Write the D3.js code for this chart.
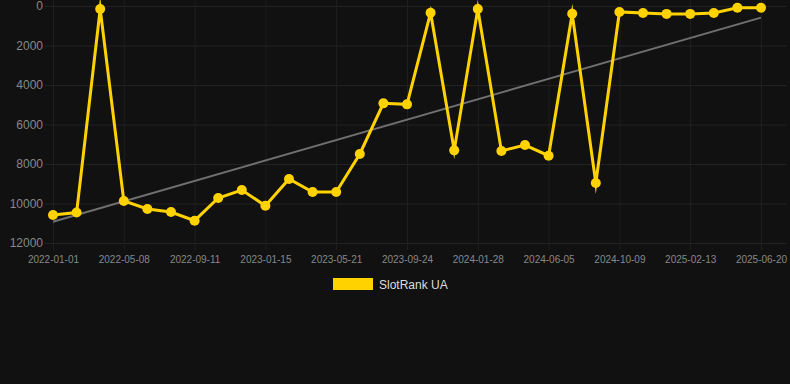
<!DOCTYPE html>
<html>
<head>
	<meta charset="utf-8">
	<title>SlotRank UA</title>
	<script src="https://cdn.jsdelivr.net/npm/d3@7"></script>
	<style type="text/css">
		body {
			margin: 0;
			background: #111111;
		}
		text {
			font-family: "Liberation Sans", Arial, sans-serif;
		}
	</style>
</head>
<body>
	<script type="text/javascript">
		// Data
		var dates = ["2022-01-01","2022-02-12","2022-03-26","2022-05-08","2022-06-19","2022-07-31",
			"2022-09-11","2022-10-23","2022-12-04","2023-01-15","2023-02-26","2023-04-09",
			"2023-05-21","2023-07-02","2023-08-13","2023-09-24","2023-11-05","2023-12-17",
			"2024-01-28","2024-03-10","2024-04-22","2024-06-05","2024-07-17","2024-08-28",
			"2024-10-09","2024-11-20","2025-01-01","2025-02-13","2025-03-27","2025-05-08",
			"2025-06-20"];
		var ranks = [10580, 10460, 150, 9870, 10280, 10430, 10870, 9720, 9320, 10110, 8760, 9420,
			9420, 7490, 4930, 4980, 340, 7310, 150, 7340, 7040, 7580, 390, 8960,
			300, 350, 400, 400, 350, 90, 90];
		var xTickLabels = ["2022-01-01","2022-05-08","2022-09-11","2023-01-15","2023-05-21",
			"2023-09-24","2024-01-28","2024-06-05","2024-10-09","2025-02-13","2025-06-20"];
		var yTicks = [0, 2000, 4000, 6000, 8000, 10000, 12000];
		var trendValues = [10920, 590];
		var seriesName = "SlotRank UA";

		var width = 790;
		var height = 384;
		var plotLeft = 53, plotRight = 761, plotTop = 6, plotBottom = 243;
		var gold = "#ffd200";

		var svg = d3.select("body").append("svg")
			.attr("width", width)
			.attr("height", height);

		var xScale = d3.scalePoint()
			.domain(dates)
			.range([plotLeft, plotRight]);
		var yScale = d3.scaleLinear()
			.domain([0, 12000])
			.range([plotTop, plotBottom]);

		// Horizontal grid + y labels
		var yAxis = svg.append("g")
			.attr("transform", "translate(" + 45 + ",0)")
			.call(d3.axisLeft(yScale)
				.tickValues(yTicks)
				.tickFormat(d3.format("d"))
				.tickSize(-(786 - 45))
				.tickPadding(2));
		yAxis.select(".domain").remove();
		yAxis.selectAll(".tick line").attr("stroke", "#222");
		yAxis.selectAll(".tick text")
			.attr("fill", "#888")
			.attr("font-size", "12px");

		// Vertical grid + x labels
		var xAxis = svg.append("g")
			.attr("transform", "translate(0," + 250 + ")")
			.call(d3.axisBottom(xScale).tickValues(xTickLabels).tickSize(-250).tickPadding(6));
		xAxis.select(".domain").remove();
		xAxis.selectAll(".tick line").attr("stroke", "#1f1f1f");
		xAxis.selectAll(".tick text")
			.attr("fill", "#888")
			.attr("font-size", "10px");

		// Trend line
		svg.append("line")
			.attr("x1", xScale(dates[0]))
			.attr("y1", yScale(trendValues[0]))
			.attr("x2", xScale(dates[dates.length - 1]))
			.attr("y2", yScale(trendValues[1]))
			.attr("stroke", "#707070")
			.attr("stroke-width", 2);

		// Series line
		var line = d3.line()
			.x(function(d, i) { return xScale(dates[i]); })
			.y(function(d) { return yScale(d); });

		svg.append("path")
			.datum(ranks)
			.attr("d", line)
			.attr("fill", "none")
			.attr("stroke", gold)
			.attr("stroke-width", 3)
			.attr("stroke-linejoin", "miter")
			.attr("stroke-miterlimit", 10);

		svg.selectAll("circle")
			.data(ranks)
			.enter()
			.append("circle")
			.attr("cx", function(d, i) { return xScale(dates[i]); })
			.attr("cy", function(d) { return yScale(d); })
			.attr("r", 5)
			.attr("fill", gold);

		// Legend
		svg.append("rect")
			.attr("x", 333)
			.attr("y", 278)
			.attr("width", 40)
			.attr("height", 12)
			.attr("fill", gold);
		svg.append("text")
			.attr("x", 379)
			.attr("y", 288.5)
			.attr("fill", "#ddd")
			.attr("font-size", "12px")
			.text(seriesName);
	</script>
</body>
</html>
